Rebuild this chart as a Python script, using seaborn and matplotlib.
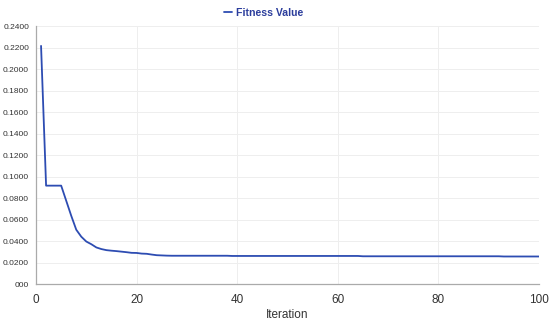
import matplotlib
matplotlib.use("Agg")
import matplotlib.pyplot as plt
import seaborn as sns
import pandas as pd

iterations = list(range(1, 101))
fitness = [
    0.2215, 0.0915, 0.0915, 0.0915, 0.0915, 0.0775, 0.0635, 0.0505, 0.0440, 0.0395,
    0.0370, 0.0340, 0.0325, 0.0315, 0.0310, 0.0306, 0.0301, 0.0296, 0.0290, 0.0289,
    0.0283, 0.0281, 0.0274, 0.0268, 0.0266, 0.0264, 0.0263, 0.0263, 0.0263, 0.0263,
    0.0263, 0.0263, 0.0263, 0.0263, 0.0263, 0.0263, 0.0263, 0.0263, 0.0261, 0.0261,
    0.0261, 0.0261, 0.0261, 0.0261, 0.0261, 0.0261, 0.0261, 0.0261, 0.0261, 0.0261,
    0.0261, 0.0261, 0.0261, 0.0261, 0.0261, 0.0261, 0.0261, 0.0261, 0.0261, 0.0261,
    0.0261, 0.0261, 0.0261, 0.0261, 0.0258, 0.0258, 0.0258, 0.0258, 0.0258, 0.0258,
    0.0258, 0.0258, 0.0258, 0.0258, 0.0258, 0.0258, 0.0258, 0.0258, 0.0258, 0.0258,
    0.0258, 0.0258, 0.0258, 0.0258, 0.0258, 0.0258, 0.0258, 0.0258, 0.0258, 0.0258,
    0.0258, 0.0258, 0.0256, 0.0256, 0.0256, 0.0256, 0.0256, 0.0256, 0.0256, 0.0256,
]
series_name = "Fitness Value"
x_ticks = [0, 20, 40, 60, 80, 100]
y_ticks = [0.0, 0.02, 0.04, 0.06, 0.08, 0.10, 0.12, 0.14, 0.16, 0.18, 0.20, 0.22, 0.24]
y_tick_labels = ["000", "0.0200", "0.0400", "0.0600", "0.0800", "0.1000", "0.1200",
                 "0.1400", "0.1600", "0.1800", "0.2000", "0.2200", "0.2400"]

df = pd.DataFrame({"Iteration": iterations, "Fitness": fitness, "Series": series_name})

sns.set_style("white")
plt.rcParams["font.family"] = ["Liberation Sans", "DejaVu Sans"]

fig = plt.figure(figsize=(5.5, 3.23), dpi=100)
ax = fig.add_axes([0.0655, 0.1207, 0.9145, 0.7988])

line_color = "#2d4cb2"
sns.lineplot(data=df, x="Iteration", y="Fitness", color=line_color, linewidth=1.3, ax=ax,
             label=series_name)

ax.set_xlim(0, 100)
ax.set_ylim(0, 0.24)
ax.set_xticks(x_ticks)
ax.set_xticklabels([str(t) for t in x_ticks], fontsize=8.5, color="#333333")
ax.set_yticks(y_ticks)
ax.set_yticklabels(y_tick_labels, fontsize=6, color="#333333")
ax.set_xlabel("Iteration", fontsize=8.5, color="#333333", labelpad=2)
ax.set_ylabel("")

ax.grid(True, color="#eeeeee", linewidth=0.7)
ax.set_axisbelow(True)
for s in ["top", "right"]:
    ax.spines[s].set_visible(False)
for s in ["left", "bottom"]:
    ax.spines[s].set_color("#aaaaaa")
    ax.spines[s].set_linewidth(0.9)
ax.tick_params(axis="x", length=4, width=0.8, color="#aaaaaa", pad=3)
ax.tick_params(axis="y", length=3, width=0.8, color="#888888", pad=2)

leg = ax.legend(loc="lower center", bbox_to_anchor=(0.452, 1.0), frameon=False,
                handlelength=0.8, handletextpad=0.3, borderaxespad=0.35,
                prop={"family": ["Liberation Sans Narrow", "Liberation Sans", "DejaVu Sans"],
                      "weight": "bold", "size": 7.6})
for t in leg.get_texts():
    t.set_color("#2b3d9c")

fig.savefig("out.png", dpi=100)
